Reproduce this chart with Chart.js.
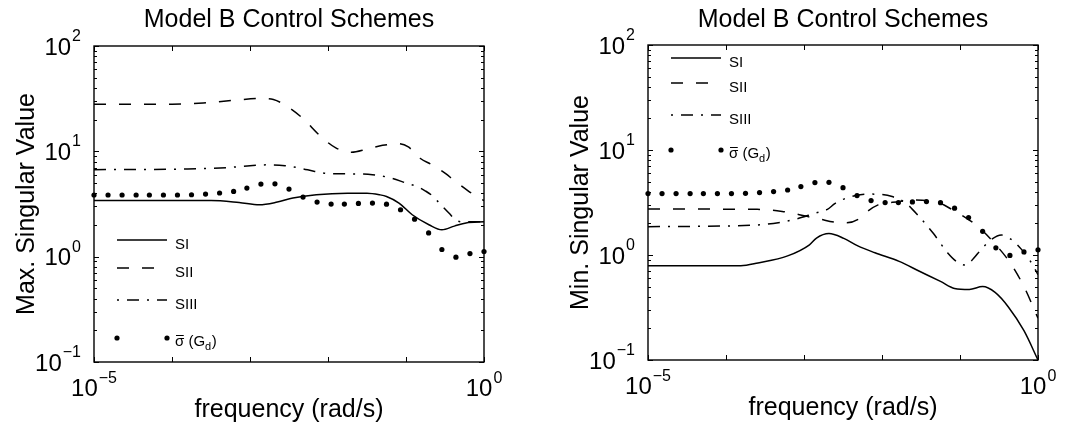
<!DOCTYPE html>
<html>
<head>
<meta charset="utf-8">
<title>Model B Control Schemes</title>
<script src="https://cdn.jsdelivr.net/npm/chart.js@4.4.0/dist/chart.umd.min.js"></script>
<style>
    html, body { margin: 0; padding: 0; background: #fff; }
    #wrap { position: relative; width: 1073px; height: 437px; }
    canvas { position: absolute; top: 0; }
    #max-chart { left: 0; }
    #min-chart { left: 536px; }
</style>
</head>
<body>
<div id="wrap">
    <canvas id="max-chart" width="536" height="437"></canvas>
    <canvas id="min-chart" width="537" height="437"></canvas>
</div>
<script>
// Frequencies are stored as log10(w), values as singular values

// max singular value, SI / SII / SIII
const maxSiLogW = [-5, -3.5, -3.14, -2.88, -2.65, -2.45, -2.15, -1.75, -1.5, -1.34, -1.25, -1.09, -0.92, -0.7, -0.54, -0.38, -0.23, 0];
const maxSiVal  = [3.42, 3.42, 3.27, 3.11, 3.3, 3.6, 3.87, 4.0, 4.0, 3.87, 3.73, 3.23, 2.5, 2.0, 1.8, 1.95, 2.09, 2.14];

const maxSiiLogW = [-5, -4, -3.6, -3.2, -2.85, -2.7, -2.55, -2.33, -2.1, -1.9, -1.7, -1.5, -1.3, -1.1, -0.97, -0.82, -0.66, -0.5, -0.37, -0.2, 0];
const maxSiiVal  = [28, 28, 28.8, 30.5, 31.8, 31, 27.5, 20.8, 14.0, 10.8, 9.8, 10.5, 11.4, 11.8, 11.0, 8.6, 7.4, 6.2, 5.2, 4.2, 3.4];

const maxSiiiLogW = [-5, -3.8, -3.3, -3.0, -2.75, -2.55, -2.35, -2.17, -2.0, -1.6, -1.43, -1.2, -1.0, -0.85, -0.75, -0.665, -0.55, -0.45, -0.35, -0.25, 0];
const maxSiiiVal  = [6.7, 6.8, 7.0, 7.3, 7.45, 7.3, 6.9, 6.45, 6.15, 6.1, 6.0, 5.6, 5.0, 4.6, 4.2, 3.8, 3.1, 2.6, 2.2, 2.14, 2.14];

// min singular value, SI / SII / SIII
const minSiLogW = [-5, -3.81, -3.59, -3.21, -2.93, -2.84, -2.68, -2.49, -2.31, -2.09, -1.78, -1.52, -1.25, -1.07, -0.88, -0.71, -0.55, -0.38, -0.18, 0];
const minSiVal  = [0.79, 0.79, 0.84, 0.98, 1.25, 1.45, 1.6, 1.44, 1.22, 1.05, 0.87, 0.70, 0.56, 0.48, 0.47, 0.5, 0.44, 0.32, 0.19, 0.1];

const minSiiLogW = [-5, -3.6, -3.28, -3.14, -2.95, -2.8, -2.6, -2.45, -2.3, -2.22, -2.05, -1.78, -1.6, -1.25, -1.1, -0.92, -0.8, -0.72, -0.54, -0.36, -0.18, 0];
const minSiiVal  = [2.74, 2.72, 2.6, 2.5, 2.32, 2.2, 2.05, 2.03, 2.2, 2.49, 3.0, 3.22, 3.35, 3.1, 2.7, 2.25, 1.95, 1.73, 1.25, 0.85, 0.5, 0.25];

const minSiiiLogW = [-5, -3.6, -3.3, -3.1, -2.86, -2.7, -2.6, -2.4, -2.13, -1.87, -1.69, -1.52, -1.34, -1.16, -1.03, -0.92, -0.83, -0.72, -0.6, -0.47, -0.35, -0.22, -0.1, 0];
const minSiiiVal  = [1.86, 1.93, 2.05, 2.2, 2.5, 2.72, 3.1, 3.6, 3.8, 3.6, 3.1, 2.3, 1.6, 1.05, 0.85, 0.80, 0.92, 1.15, 1.4, 1.55, 1.42, 1.15, 0.88, 0.65];

// max singular value of Gd, same samples on both plots
const gdLogW = [-5, -4.82, -4.64, -4.46, -4.29, -4.11, -3.93, -3.75, -3.57, -3.39, -3.21, -3.04, -2.86, -2.68, -2.5, -2.32, -2.14, -1.96, -1.79, -1.61, -1.43, -1.25, -1.07, -0.89, -0.71, -0.54, -0.36, -0.18, 0];
const gdVal  = [3.85, 3.85, 3.85, 3.85, 3.85, 3.85, 3.85, 3.87, 3.93, 4.02, 4.16, 4.48, 4.89, 4.92, 4.38, 3.68, 3.30, 3.16, 3.16, 3.2, 3.23, 3.15, 2.79, 2.27, 1.68, 1.17, 0.99, 1.07, 1.12];

// axis decades
const xDecades = [-5, -4, -3, -2, -1, 0];
const yDecades = [-1, 0, 1, 2];
const xLabelExp = [-5, 0];
const yLabelExp = [-1, 0, 1, 2];
const legendLabels = ['SI', 'SII', 'SIII'];

const FONT = "'Liberation Sans', Arial, Helvetica, sans-serif";
const DASHES = [[], [12, 13], [12, 8, 2, 8]];

function toPoints(logW, vals) {
    return logW.map((w, i) => ({ x: Math.pow(10, w), y: vals[i] }));
}

function lineSet(label, logW, vals, dash) {
    return {
        label: label,
        data: toPoints(logW, vals),
        showLine: true,
        borderColor: '#000',
        borderWidth: 1.5,
        borderDash: dash,
        pointRadius: 0,
        cubicInterpolationMode: 'monotone',
        fill: false
    };
}

function dotSet() {
    return {
        label: 'Gd',
        data: toPoints(gdLogW, gdVal),
        showLine: false,
        pointRadius: 2.6,
        pointBackgroundColor: '#000',
        pointBorderWidth: 0,
        clip: 6
    };
}

/**
 * Draw "10" with a raised exponent
 */
function drawPower(ctx, exp, px, py, onYAxis) {
    const base = '10';
    const sup = String(exp).replace('-', '\u2212');
    ctx.font = '24px ' + FONT;
    const wb = ctx.measureText(base).width;
    ctx.font = '16px ' + FONT;
    const ws = ctx.measureText(sup).width;
    let left, baseY, supY;
    if (onYAxis) {
        left = px - wb - ws - 1;
        baseY = py + 8.5;
        supY = py - 5;
    } else {
        left = px - (wb + ws + 1) / 2;
        baseY = py + 34;
        supY = py + 21;
    }
    ctx.textAlign = 'left';
    ctx.textBaseline = 'alphabetic';
    ctx.font = '24px ' + FONT;
    ctx.fillText(base, left, baseY);
    ctx.font = '16px ' + FONT;
    ctx.fillText(sup, left + wb + 1, supY);
}

/**
 * Legend block inside the plot: three line samples and the Gd dots
 */
function drawLegend(ctx, a, rows) {
    const x0 = a.left + 23, x1 = a.left + 73, tx = a.left + 81;
    ctx.strokeStyle = '#000';
    ctx.fillStyle = '#000';
    ctx.lineWidth = 1.5;
    ctx.textAlign = 'left';
    ctx.textBaseline = 'alphabetic';
    ctx.font = '15px ' + FONT;

    legendLabels.forEach((label, i) => {
        const ly = rows[i];
        ctx.save();
        ctx.setLineDash(DASHES[i]);
        ctx.lineDashOffset = i === 2 ? 20 : 0;
        ctx.beginPath();
        ctx.moveTo(x0, ly);
        ctx.lineTo(x1, ly);
        ctx.stroke();
        ctx.restore();
        ctx.fillText(label, tx, ly + 9);
    });

    const dy = rows[3];
    [x0, x1].forEach(px => {
        ctx.beginPath();
        ctx.arc(px, dy, 2.6, 0, Math.PI * 2);
        ctx.fill();
    });

    // sigma-bar (G_d)
    const by = dy + 8;
    ctx.font = '15px ' + FONT;
    ctx.fillText('\u03c3', tx, by);
    const ws = ctx.measureText('\u03c3').width;
    ctx.lineWidth = 1;
    ctx.beginPath();
    ctx.moveTo(tx + 1, by - 10.5);
    ctx.lineTo(tx + ws - 0.5, by - 10.5);
    ctx.stroke();
    let cx = tx + ws;
    ctx.fillText(' (G', cx, by);
    cx += ctx.measureText(' (G').width;
    ctx.font = '11px ' + FONT;
    ctx.fillText('d', cx, by + 4);
    cx += ctx.measureText('d').width + 0.5;
    ctx.font = '15px ' + FONT;
    ctx.fillText(')', cx, by);
}

const axesBox = {
    id: 'axesBox',
    afterDatasetsDraw(chart) {
        const { ctx, chartArea: a, scales: { x, y } } = chart;
        ctx.save();
        ctx.strokeStyle = '#000';
        ctx.lineWidth = 1;
        ctx.beginPath();
        // decade ticks on x, top and bottom, pointing in
        xDecades.forEach(e => {
            const px = Math.round(x.getPixelForValue(Math.pow(10, e))) + 0.5;
            ctx.moveTo(px, a.bottom); ctx.lineTo(px, a.bottom - 5);
            ctx.moveTo(px, a.top); ctx.lineTo(px, a.top + 5);
        });
        // major and minor ticks on y, left and right
        yDecades.forEach(e => {
            for (let m = 1; m <= 9; m++) {
                const v = m * Math.pow(10, e);
                if (v > 100) break;
                const py = Math.round(y.getPixelForValue(v)) + 0.5;
                const len = m === 1 ? 5 : 3;
                ctx.moveTo(a.left, py); ctx.lineTo(a.left + len, py);
                ctx.moveTo(a.right, py); ctx.lineTo(a.right - len, py);
            }
        });
        ctx.stroke();
        ctx.lineWidth = 1.4;
        ctx.strokeRect(a.left, a.top, a.right - a.left, a.bottom - a.top);
        ctx.restore();
    },
    afterDraw(chart, args, opts) {
        const { ctx, chartArea: a, scales: { x, y } } = chart;
        const cx = (a.left + a.right) / 2;
        ctx.save();
        ctx.fillStyle = '#000';
        ctx.textAlign = 'center';
        ctx.textBaseline = 'alphabetic';
        ctx.font = '25px ' + FONT;
        ctx.fillText(opts.title, cx, 27);
        ctx.fillText('frequency (rad/s)', cx, a.bottom + 55);

        ctx.save();
        ctx.translate(a.left - 60, (a.top + a.bottom) / 2);
        ctx.rotate(-Math.PI / 2);
        ctx.fillText(opts.yTitle, 0, 0);
        ctx.restore();

        yLabelExp.forEach(e => drawPower(ctx, e, a.left - 13, y.getPixelForValue(Math.pow(10, e)), true));
        xLabelExp.forEach(e => drawPower(ctx, e, x.getPixelForValue(Math.pow(10, e)), a.bottom, false));

        drawLegend(ctx, a, opts.legendRows);
        ctx.restore();
    }
};

function makeChart(id, sets, padding, pluginOpts) {
    const ctx = document.getElementById(id).getContext('2d');
    return new Chart(ctx, {
        type: 'scatter',
        data: {
            datasets: [
                lineSet('SI', sets[0][0], sets[0][1], DASHES[0]),
                lineSet('SII', sets[1][0], sets[1][1], DASHES[1]),
                lineSet('SIII', sets[2][0], sets[2][1], DASHES[2]),
                dotSet()
            ]
        },
        options: {
            responsive: false,
            animation: false,
            devicePixelRatio: 1,
            layout: { padding: padding },
            plugins: {
                legend: { display: false },
                tooltip: { enabled: false },
                axesBox: pluginOpts
            },
            scales: {
                x: { type: 'logarithmic', min: 1e-5, max: 1, display: false },
                y: { type: 'logarithmic', min: 0.1, max: 100, display: false }
            }
        },
        plugins: [axesBox]
    });
}

makeChart('max-chart',
    [[maxSiLogW, maxSiVal], [maxSiiLogW, maxSiiVal], [maxSiiiLogW, maxSiiiVal]],
    { left: 94, right: 52, top: 46, bottom: 75 },
    { title: 'Model B Control Schemes', yTitle: 'Max. Singular Value', legendRows: [240, 268, 300, 338] });

makeChart('min-chart',
    [[minSiLogW, minSiVal], [minSiiLogW, minSiiVal], [minSiiiLogW, minSiiiVal]],
    { left: 112, right: 35, top: 45, bottom: 77 },
    { title: 'Model B Control Schemes', yTitle: 'Min. Singular Value', legendRows: [58, 83, 115, 150] });
</script>
</body>
</html>
